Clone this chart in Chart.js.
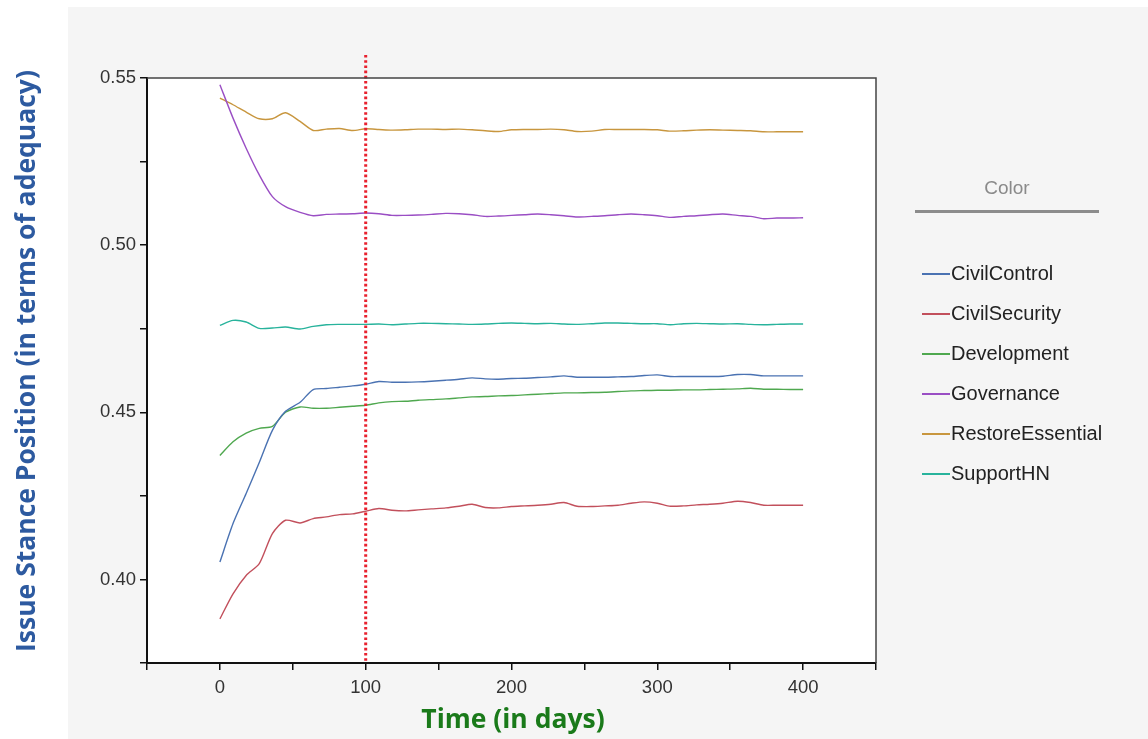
<!DOCTYPE html>
<html>
<head>
<meta charset="utf-8">
<script src="https://cdn.jsdelivr.net/npm/chart.js@4.4.1/dist/chart.umd.min.js"></script>
<style>
body{margin:0;background:#fff;}
#wrap{position:relative;width:1148px;height:739px;overflow:hidden;font-family:Arial,"Liberation Sans",sans-serif;}
#panel{position:absolute;left:68px;top:7px;right:0;bottom:0;background:#f5f5f5;}
#chart{position:absolute;left:0;top:0;}
#ytitle{position:absolute;left:25px;top:361px;width:760px;margin-left:-380px;text-align:center;transform:rotate(-90deg);transform-origin:50% 50%;
  font-family:"Open Sans",Lato,sans-serif;font-weight:bold;font-size:26.5px;color:#2d5aa0;line-height:34px;margin-top:-17px;white-space:nowrap;}
#xtitle{position:absolute;left:263px;width:500px;top:701px;line-height:34px;text-align:center;font-family:"Open Sans",Lato,sans-serif;font-weight:bold;font-size:26.5px;color:#1a7a1a;white-space:nowrap;}
#legend{position:absolute;left:915px;top:175px;width:184px;}
#legend .ttl{text-align:center;color:#8a8a8a;font-size:19px;height:26px;line-height:26px;}
#legend .bar{height:3px;background:#8c8c8c;margin-top:9px;margin-bottom:49px;}
#legend .item{position:relative;height:40px;line-height:22px;font-size:20px;color:#222;}
#legend .item i{position:absolute;left:7px;top:11px;width:28px;height:1.5px;}
#legend .item span{position:absolute;left:36px;top:0;}
</style>
</head>
<body>
<div id="wrap">
  <div id="panel"></div>
  <canvas id="chart" width="1148" height="739"></canvas>
  <div id="ytitle">Issue Stance Position (in terms of adequacy)</div>
  <div id="xtitle">Time (in days)</div>
  <div id="legend"></div>
</div>
<script>
const dias=[0,9,18,27,36,45,55,64,73,82,91,100,109,118,127,136,145,155,164,173,182,191,200,209,218,227,236,245,255,264,273,282,291,300,309,318,327,336,345,355,364,373,382,391,400];

const civilControl=[.4052,.4167,.4257,.4350,.4446,.4503,.4530,.4568,.4571,.4575,.4579,.4584,.4592,.4590,.4590,.4591,.4593,.4596,.4599,.4603,.4600,.4599,.4601,.4602,.4604,.4606,.4609,.4605,.4605,.4605,.4606,.4607,.4610,.4612,.4607,.4607,.4607,.4607,.4608,.4613,.4613,.4609,.4609,.4609,.4609];
const civilSecurity=[.3882,.3957,.4012,.4047,.4137,.4177,.4169,.4182,.4187,.4194,.4196,.4204,.4212,.4207,.4205,.4208,.4211,.4214,.4219,.4225,.4215,.4214,.4218,.4220,.4222,.4225,.4230,.4219,.4218,.4220,.4222,.4228,.4232,.4228,.4219,.4220,.4223,.4225,.4228,.4234,.4230,.4222,.4222,.4222,.4222];
const development=[.4371,.4412,.4438,.4452,.4458,.4500,.4516,.4512,.4512,.4515,.4518,.4521,.4528,.4532,.4533,.4536,.4538,.4540,.4543,.4546,.4547,.4549,.4550,.4552,.4554,.4556,.4558,.4558,.4559,.4560,.4562,.4564,.4565,.4566,.4566,.4567,.4567,.4568,.4569,.4570,.4572,.4569,.4569,.4568,.4568];
const governance=[.5480,.5380,.5290,.5210,.5145,.5115,.5098,.5088,.5092,.5093,.5094,.5096,.5094,.5089,.5089,.5090,.5092,.5095,.5094,.5091,.5086,.5087,.5089,.5091,.5093,.5091,.5088,.5084,.5086,.5088,.5091,.5093,.5091,.5088,.5083,.5086,.5088,.5091,.5093,.5089,.5086,.5079,.5081,.5081,.5082];
const restoreEssential=[.5440,.5420,.5398,.5378,.5378,.5396,.5370,.5343,.5347,.5349,.5343,.5348,.5346,.5344,.5345,.5347,.5347,.5346,.5347,.5345,.5342,.5340,.5345,.5346,.5346,.5347,.5345,.5340,.5341,.5346,.5346,.5346,.5346,.5345,.5341,.5342,.5344,.5345,.5344,.5343,.5342,.5339,.5339,.5339,.5339];
const supportHN=[.4760,.4775,.4770,.4751,.4752,.4755,.4749,.4757,.4762,.4763,.4763,.4763,.4764,.4762,.4764,.4766,.4766,.4765,.4764,.4763,.4764,.4766,.4767,.4766,.4765,.4766,.4764,.4763,.4765,.4767,.4767,.4766,.4765,.4765,.4762,.4765,.4766,.4765,.4764,.4765,.4763,.4762,.4763,.4764,.4764];

const nomes=['CivilControl','CivilSecurity','Development','Governance','RestoreEssential','SupportHN'];
const cores=['#4a72b2','#c2505c','#4fa84f','#9a4ec4','#c8963e','#28b39c'];
const series=[civilControl,civilSecurity,development,governance,restoreEssential,supportHN];
const diaMarcado=100;

// legenda em html
document.getElementById('legend').innerHTML='<div class="ttl">Color</div><div class="bar"></div>'
  +nomes.map(function(n,i){return '<div class="item"><i style="background:'+cores[i]+'"></i><span>'+n+'</span></div>';}).join('');

const fundoPlot={
  id:'fundoPlot',
  beforeDraw:function(c){
    const a=c.chartArea,ctx=c.ctx;
    ctx.save();ctx.fillStyle='#fff';ctx.fillRect(a.left,a.top,a.right-a.left,a.bottom-a.top);ctx.restore();
  },
  afterDatasetsDraw:function(c){
    const a=c.chartArea,ctx=c.ctx,x=c.scales.x.getPixelForValue(diaMarcado);
    ctx.save();
    ctx.strokeStyle='#e8212e';ctx.lineWidth=3;ctx.setLineDash([2.6,2.6]);
    ctx.beginPath();ctx.moveTo(x,a.top-23);ctx.lineTo(x,a.bottom);ctx.stroke();
    ctx.restore();
  },
  afterDraw:function(c){
    const a=c.chartArea,ctx=c.ctx;
    ctx.save();ctx.strokeStyle='#444';ctx.lineWidth=1.5;
    ctx.beginPath();ctx.moveTo(a.left,a.top);ctx.lineTo(a.right,a.top);ctx.lineTo(a.right,a.bottom);ctx.stroke();
    ctx.restore();
  }
};

new Chart(document.getElementById('chart').getContext('2d'),{
  type:'line',
  data:{datasets:series.map(function(s,i){
    return {label:nomes[i],data:dias.map(function(d,j){return {x:d,y:s[j]};}),borderColor:cores[i],backgroundColor:cores[i],borderWidth:1.4,pointRadius:0,tension:0.25,fill:false};
  })},
  options:{
    responsive:false,animation:false,
    layout:{padding:{left:0,top:78,right:272,bottom:0}},
    plugins:{legend:{display:false},tooltip:{enabled:false}},
    scales:{
      x:{type:'linear',min:-50,max:450,
        afterFit:function(s){s.height=76;},
        ticks:{stepSize:50,autoSkip:false,maxRotation:0,color:'#333',font:{family:'Arial',size:18.5},padding:7,
          callback:function(v){return (v>=0&&v<=400&&v%100===0)?String(v):'';}},
        grid:{drawOnChartArea:false,color:'#111',tickLength:7,lineWidth:1.5},
        border:{color:'#111',width:2}},
      y:{min:0.375,max:0.55,
        afterFit:function(s){s.width=147;},
        ticks:{stepSize:0.025,autoSkip:false,color:'#333',font:{family:'Arial',size:18.5},padding:4,
          callback:function(v){return Math.abs(v*20-Math.round(v*20))<1e-6?v.toFixed(2):'';}},
        grid:{drawOnChartArea:false,color:'#111',tickLength:7,lineWidth:1.5},
        border:{color:'#111',width:2}}
    }
  },
  plugins:[fundoPlot]
});
</script>
</body>
</html>
